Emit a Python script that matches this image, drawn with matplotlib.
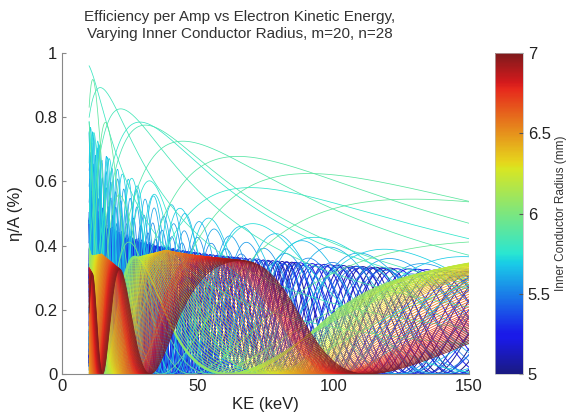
import numpy as np
import matplotlib
matplotlib.use("Agg")
import matplotlib.pyplot as plt
from matplotlib import cm, colors

plt.rcParams["font.family"] = ["Liberation Sans", "DejaVu Sans"]

# ---- data -----------------------------------------------------------------
ke_range = [10, 150]                 # keV, x-extent of every curve
radius_range = [5.0, 7.0]            # mm, colour scale
n_curves = 121                       # radius step 1/60 mm

# per-radius curve parameters (anchor radii)
r_knots     = [5.00, 5.25, 5.45, 5.55, 5.65, 5.70, 5.7333, 5.75, 5.7667, 5.7833, 5.80, 5.8167,
               5.8333, 5.85, 5.8667, 5.8833, 5.90, 5.9167, 5.9333, 5.95, 5.9667, 6.08, 6.20, 6.45, 6.70, 7.00]
amp_knots   = [0.48, 0.48, 0.52, 0.66, 0.78, 0.78, 0.78, 0.78, 0.85, 0.96, 0.96, 0.96,
               0.96, 0.96, 0.96, 0.96, 0.94, 0.85, 0.62, 0.45, 0.39, 0.37, 0.37, 0.37, 0.34, 0.31]
tilt_knots  = [-0.15, -0.15, -0.20, -0.26, -0.28, -0.28, -0.26, -0.22, -0.19, -0.18, -0.18, -0.18,
               -0.18, -0.18, -0.18, -0.18, -0.18, -0.17, -0.14, -0.10, -0.06, -0.02, 0.0, 0.03, 0.05, 0.07]
freq_knots  = [190, 160, 125, 95, 70, 52, 40, 27, 14, 9, 5, 6.3,
               7.8, 9.3, 11.2, 13.5, 16.0, 19.0, 22.0, 24.0, 25.5, 27.0, 29.0, 32.0, 35.5, 38.6]
phase_knots = [0, 0, 0, 0, 0, 0, 0, 0, 0, 0, 0, 0,
               0, 0, 0, 0, 0, 0, -0.05, -0.1, -0.2, -0.45, -0.54, -0.54, -0.54, -0.54]
warp_knots  = [0, 0, 0, 0, 0, 0, 0, 0, 0, 0, 0, 0,
               0, 0, 0, 0, 0, 0, 0, 0, 0.2, 0.6, 1.0, 1.0, 1.0, 1.0]
warp_height, warp_centre, warp_width = 0.013, 72.0, 26.0

x_ticks = [0, 50, 100, 150]
y_ticks = [0, 0.2, 0.4, 0.6, 0.8, 1]
y_tick_labels = ["0", "0.2", "0.4", "0.6", "0.8", "1"]
cb_ticks = [5, 5.5, 6, 6.5, 7]
cb_tick_labels = ["5", "5.5", "6", "6.5", "7"]

# ---- muted jet colormap ----------------------------------------------------
jet = plt.get_cmap("jet")(np.linspace(0, 1, 256))[:, :3]
muted = 0.8 * jet + 0.2 * np.array([0.5, 0.5, 0.55])
cmap = colors.ListedColormap(muted)

# ---- figure --------------------------------------------------------------
fig = plt.figure(figsize=(5.71, 4.20), dpi=100)
ax = fig.add_axes([62/571, 46/420, 407/571, 321/420])
cax = fig.add_axes([495/571, 46/420, 28/571, 321/420])

ke = np.linspace(ke_range[0], ke_range[1], 800)
radii = np.linspace(radius_range[0], radius_range[1], n_curves)
norm = colors.Normalize(vmin=radius_range[0], vmax=radius_range[1])
bump = warp_height * np.exp(-((ke - warp_centre) / warp_width) ** 2)

for r in radii:
    A = np.interp(r, r_knots, amp_knots)
    q = np.interp(r, r_knots, tilt_knots)
    c = np.interp(r, r_knots, freq_knots)
    b = np.interp(r, r_knots, phase_knots)
    w = np.interp(r, r_knots, warp_knots)
    phi = c * (1.0 / np.sqrt(ke) + w * bump) + b
    eta = A * (ke / 10.0) ** q * np.sin(phi) ** 2
    lw = 0.7 if r < 5.45 else 0.55
    ax.plot(ke, eta, color=cmap(norm(r)), lw=lw)

ax.set_xlim(0, 150)
ax.set_ylim(0, 1)
ax.set_xticks(x_ticks)
ax.set_yticks(y_ticks)
ax.set_yticklabels(y_tick_labels)
for s in ["top", "right"]:
    ax.spines[s].set_visible(False)
for s in ["left", "bottom"]:
    ax.spines[s].set_color("#888888")
ax.tick_params(direction="in", length=3, color="#888888", labelsize=12, labelcolor="#222222")
ax.set_xlabel("KE (keV)", fontsize=12, color="#222222", labelpad=2)
ax.set_ylabel("η/A (%)", fontsize=12, color="#222222", labelpad=8)

fig.text(240/571, 1 - 17/420, "Efficiency per Amp vs Electron Kinetic Energy,",
         ha="center", va="center", fontsize=11, color="#333333")
fig.text(240/571, 1 - 34/420, "Varying Inner Conductor Radius, m=20, n=28",
         ha="center", va="center", fontsize=11, color="#333333")

sm = cm.ScalarMappable(norm=norm, cmap=cmap)
cb = fig.colorbar(sm, cax=cax)
cb.set_ticks(cb_ticks)
cb.set_ticklabels(cb_tick_labels)
cb.outline.set_edgecolor("#bbbbbb")
cb.outline.set_linewidth(0.5)
cax.tick_params(direction="in", length=3, color="#555555", labelsize=12, labelcolor="#222222")
fig.text(561/571, 1 - 213/420, "Inner Conductor Radius (mm)", rotation=90,
         ha="center", va="center", fontsize=8.5, color="#333333")

fig.savefig("out.png", dpi=100)
